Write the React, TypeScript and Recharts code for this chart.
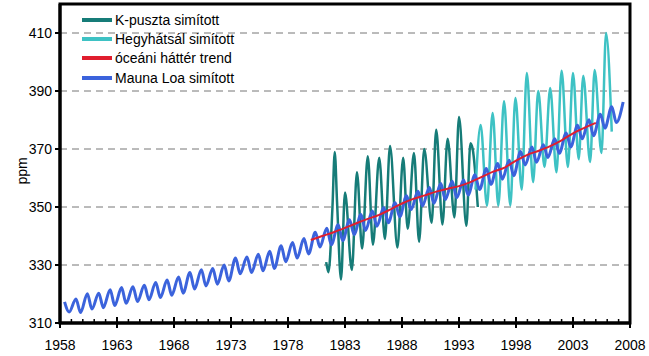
import { LineChart, Line, XAxis, YAxis, CartesianGrid, ReferenceArea, Legend } from 'recharts'

// Mauna Loa: one spring maximum and one autumn minimum per year, 1958..2007
const mlYears = Array.from({ length: 50 }, (_, i) => 1958 + i)
const mlPeak = [
  317.3, 318.3, 320.1, 320.3, 321.5, 322.2, 322.5, 323.0, 324.0, 324.8,
  325.9, 327.4, 328.4, 328.8, 330.0, 332.4, 332.8, 333.7, 334.7, 336.6,
  337.8, 339.1, 341.3, 342.7, 343.9, 345.6, 347.4, 348.6, 349.8, 351.5,
  353.9, 355.4, 356.7, 358.1, 358.9, 359.3, 361.1, 363.3, 365.0, 366.1,
  369.1, 370.7, 371.5, 373.5, 375.5, 378.2, 380.1, 382.0, 384.6, 386.2,
]
const mlTrough = [
  313.8, 313.6, 314.8, 315.3, 316.0, 316.8, 317.4, 318.0, 318.8, 319.6,
  320.3, 321.7, 322.8, 323.4, 324.5, 327.0, 327.4, 328.0, 328.8, 331.1,
  332.4, 333.8, 336.2, 337.0, 338.4, 340.5, 341.9, 343.4, 344.6, 346.6,
  349.1, 350.4, 351.3, 352.6, 353.2, 354.1, 356.0, 357.8, 359.6, 360.8,
  364.5, 365.4, 367.1, 368.5, 370.7, 373.5, 374.6, 377.2, 379.1,
]

const kpT = [
  1981.35, 1981.55, 1981.9, 1982.1, 1982.3, 1982.65, 1983.0, 1983.6, 1984.05, 1984.5,
  1985.0, 1985.45, 1986.0, 1986.5, 1986.95, 1987.6, 1988.1, 1988.5, 1989.05, 1989.5,
  1989.95, 1990.6, 1991.0, 1991.55, 1992.0, 1992.6, 1993.0, 1993.65, 1994.0, 1994.2, 1994.65,
]
const kpV = [
  331, 327.5, 350, 369, 352, 325, 355, 328.3, 362, 335.7,
  367.5, 337, 367, 339, 371, 336, 367, 342.5, 368.6, 338,
  370, 344.6, 376.6, 344, 373.5, 346.4, 381, 343.5, 372, 370, 350,
]

const hhT = [
  1994.45, 1994.9, 1995.45, 1995.95, 1996.45, 1996.95, 1997.5, 1997.95, 1998.5, 1998.95,
  1999.5, 1999.95, 2000.5, 2001.0, 2001.55, 2002.0, 2002.55, 2003.0, 2003.5, 2003.9,
  2004.5, 2004.9, 2005.5, 2005.9, 2006.4,
]
const hhV = [
  356, 378.3, 350.5, 382.4, 350.5, 386.5, 350.5, 387.6, 356, 396.2,
  358.6, 390, 363.8, 391, 362, 397, 363.8, 396.2, 366.5, 395.3,
  365.5, 397.2, 368.6, 410, 376,
]

const trendYears = Array.from({ length: 26 }, (_, i) => 1980 + i)
const trendV = [
  338.6, 340.0, 341.3, 342.8, 344.4, 345.9, 347.3, 349.2, 351.2, 352.8,
  354.0, 355.3, 356.3, 357.2, 358.6, 360.4, 362.2, 363.6, 366.0, 368.0,
  369.4, 371.0, 373.0, 375.4, 377.3, 379.0,
]

const yTicks = [310, 330, 350, 370, 390, 410]
const xTicks = Array.from({ length: 51 }, (_, i) => 1958 + i)

const mlData: { t: number; v: number }[] = []
mlYears.forEach((y, i) => {
  mlData.push({ t: y + 0.4, v: mlPeak[i] })
  if (mlTrough[i] !== undefined) mlData.push({ t: y + 0.8, v: mlTrough[i] })
})
const kpData = kpT.map((t, i) => ({ t, v: kpV[i] }))
const hhData = hhT.map((t, i) => ({ t, v: hhV[i] }))
const trendData = trendYears.map((t, i) => ({ t, v: trendV[i] }))

const C_KP = '#167c78'
const C_HH = '#3ec2c4'
const C_TR = '#e01e2e'
const C_ML = '#3b63dc'

const legendItems = [
  { label: 'K-puszta simított', color: C_KP },
  { label: 'Hegyhátsál simított', color: C_HH },
  { label: 'óceáni háttér trend', color: C_TR },
  { label: 'Mauna Loa simított', color: C_ML },
]

function YearTick({ x, y, payload }: any) {
  const yr = payload.value
  const major = (yr - 1958) % 5 === 0
  return (
    <g>
      <line x1={x} x2={x} y1={major ? y - 6 : y - 4} y2={major ? y + 5 : y} stroke="#000" strokeWidth={major ? 2 : 1.5} />
      {major && (
        <text x={x} y={y + 27} textAnchor="middle" fontSize={14} fill="#000">{yr}</text>
      )}
    </g>
  )
}

function LegendBox() {
  return (
    <div>
      {legendItems.map(it => (
        <div key={it.label} style={{ display: 'flex', alignItems: 'center', height: 19.3 }}>
          <div style={{ width: 30, height: 4, background: it.color, marginRight: 3 }} />
          <span style={{ fontSize: 14, color: '#000', lineHeight: '14px' }}>{it.label}</span>
        </div>
      ))}
    </div>
  )
}

export default function App() {
  return (
    <div style={{ position: 'fixed', top: 0, left: 0, width: 649, height: 356, overflow: 'hidden', background: '#fff', fontFamily: '"Liberation Sans", Arial, sans-serif' }}>
      <LineChart width={649} height={356} margin={{ top: 4, right: 19, left: 0, bottom: 0 }}>
        <CartesianGrid vertical={false} stroke="#777" strokeDasharray="7 5" />
        <XAxis
          type="number"
          dataKey="t"
          domain={[1958, 2008]}
          allowDataOverflow
          ticks={xTicks}
          interval={0}
          height={33}
          tickSize={0}
          tickMargin={0}
          tick={<YearTick />}
          axisLine={{ stroke: '#000', strokeWidth: 3 }}
        />
        <YAxis
          type="number"
          domain={[310, 420]}
          allowDataOverflow
          ticks={yTicks}
          width={60}
          tickSize={5}
          tickMargin={3}
          tick={{ fontSize: 14, fill: '#000' }}
          tickLine={{ stroke: '#000', strokeWidth: 2 }}
          axisLine={{ stroke: '#000', strokeWidth: 3 }}
        />
        <ReferenceArea x1={1958} x2={2008} y1={310} y2={420} fill="none" stroke="#000" strokeWidth={3} ifOverflow="visible" />
        <Line data={kpData} dataKey="v" type="monotone" stroke={C_KP} strokeWidth={2.5} dot={false} isAnimationActive={false} />
        <Line data={hhData} dataKey="v" type="monotone" stroke={C_HH} strokeWidth={2.5} dot={false} isAnimationActive={false} />
        <Line data={mlData} dataKey="v" type="monotone" stroke={C_ML} strokeWidth={3} dot={false} isAnimationActive={false} />
        <Line data={trendData} dataKey="v" type="monotone" stroke={C_TR} strokeWidth={2} dot={false} isAnimationActive={false} />
        <Legend
          layout="vertical"
          align="center"
          verticalAlign="middle"
          content={<LegendBox />}
          wrapperStyle={{ position: 'absolute', top: 10, left: 82, width: 200 }}
        />
      </LineChart>
      <div style={{ position: 'absolute', left: 22, top: 171, transform: 'translate(-50%, -50%) rotate(-90deg)', fontSize: 14, color: '#000' }}>
        ppm
      </div>
    </div>
  )
}
